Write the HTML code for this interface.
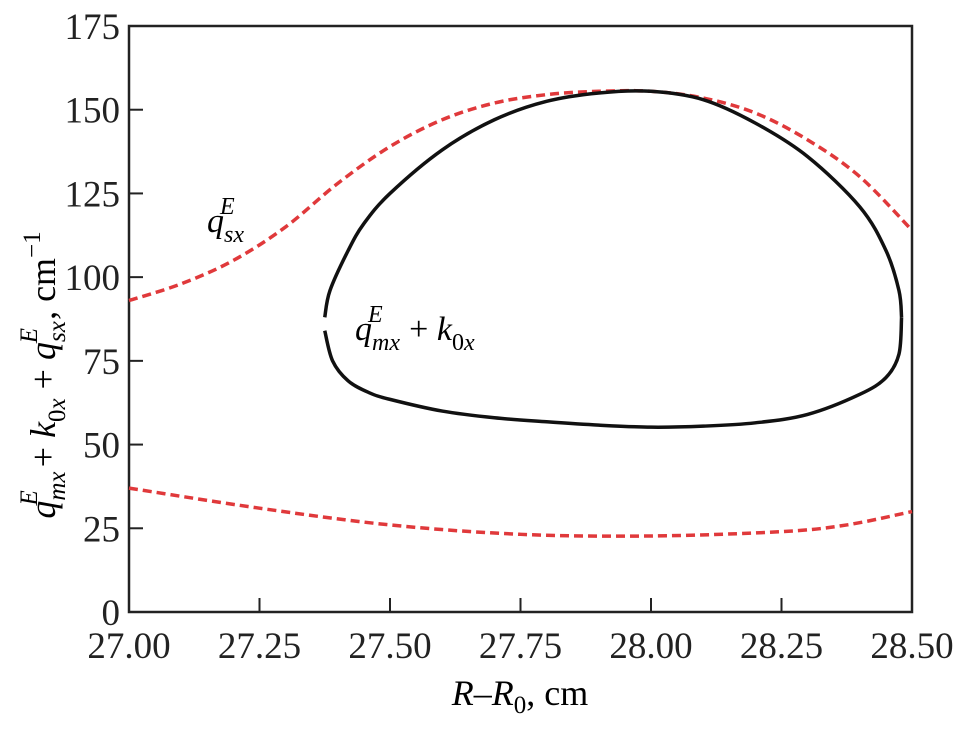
<!DOCTYPE html>
<html><head><meta charset="utf-8"><style>
body{margin:0;background:#fff}
svg{display:block}
text{font-family:"Liberation Serif","DejaVu Serif",serif}
</style></head><body>
<svg width="963" height="730">
<g id="axes"></g><g id="marks"></g>
<text x="207" y="232" font-size="34" font-style="italic" font-family="Liberation Serif, serif">q<tspan font-size="24" dy="10">sx</tspan><tspan font-size="24" dx="-24" dy="-28">E</tspan></text>
<text x="355" y="340" font-size="34" font-family="Liberation Serif, serif"><tspan font-style="italic">q</tspan><tspan font-size="24" font-style="italic" dy="10">mx</tspan><tspan font-size="24" font-style="italic" dx="-32" dy="-28">E</tspan><tspan dx="18" dy="18"> + </tspan><tspan font-style="italic">k</tspan><tspan font-size="24" dy="10">0</tspan><tspan font-size="24" font-style="italic">x</tspan></text>
<text transform="translate(55,375) rotate(-90)" text-anchor="middle" font-size="36" font-family="Liberation Serif, serif"><tspan font-style="italic">q</tspan><tspan font-size="25" font-style="italic" dy="10">mx</tspan><tspan font-size="25" font-style="italic" dx="-34" dy="-28">E</tspan><tspan dx="14" dy="18"> + </tspan><tspan font-style="italic">k</tspan><tspan font-size="25" dy="10">0</tspan><tspan font-size="25" font-style="italic">x</tspan><tspan dy="-10"> + </tspan><tspan font-style="italic">q</tspan><tspan font-size="25" font-style="italic" dy="10">sx</tspan><tspan font-size="25" font-style="italic" dx="-22" dy="-28">E</tspan><tspan dx="8" dy="18">,  cm</tspan><tspan font-size="25" dy="-15">−1</tspan></text>
<text x="520" y="705" text-anchor="middle" font-size="36" font-family="Liberation Serif, serif"><tspan font-style="italic">R</tspan>–<tspan font-style="italic">R</tspan><tspan font-size="25" dy="8">0</tspan><tspan dy="-8">, cm</tspan></text>
</svg>
<script>
const xTicks=[27.00,27.25,27.50,27.75,28.00,28.25,28.50];
const xTickLabels=["27.00","27.25","27.50","27.75","28.00","28.25","28.50"];
const yTicks=[0,25,50,75,100,125,150,175];
const upperX=[27.0,27.1,27.2,27.3,27.4,27.5,27.6,27.7,27.8,27.9,28.0,28.1,28.2,28.3,28.4,28.5];
const upperY=[93,98,105,115,128,139,147,152,154.5,155.5,155.5,153.5,149,141,130,114];
const lowerX=[27.0,27.25,27.5,27.75,28.0,28.25,28.375,28.5];
const lowerY=[37,31,26,23.2,22.7,24,26,30];
const loopTopX=[27.375,27.385,27.42,27.45,27.5,27.6,27.7,27.8,27.9,28.0,28.1,28.2,28.3,28.4,28.45,28.475,28.48];
const loopTopY=[88,96,108,116,125,138,147,152.5,155,155.5,153,146,136,121,108,96,88];
const loopBotX=[27.375,27.39,27.42,27.46,27.5,27.6,27.7,27.8,27.9,28.0,28.1,28.2,28.3,28.4,28.45,28.475,28.48];
const loopBotY=[84,75,69,65.5,63.5,60,58,56.8,55.8,55.2,55.5,56.5,59,65,70,77,88];
const X=v=>129+(v-27)/1.5*783, Y=v=>612-v/175*586;
const NS="http://www.w3.org/2000/svg";
const ax=document.getElementById('axes'), mk=document.getElementById('marks');
function el(t,a,p){const e=document.createElementNS(NS,t);for(const k in a)e.setAttribute(k,a[k]);p.appendChild(e);return e;}
const frame=el('rect',{x:129,y:26,width:783,height:586,fill:'none',stroke:'#222','stroke-width':2.5},ax);


xTicks.forEach((t,i)=>{
 const l=el('line',{x1:X(t),x2:X(t),y1:612,y2:598,stroke:'#222','stroke-width':2},ax);
 
 
 const tx=el('text',{x:X(t),y:658,'text-anchor':'middle','font-size':37,fill:'#222','font-family':'Liberation Serif, serif'},ax);tx.textContent=xTickLabels[i];
 
 
});
yTicks.forEach(t=>{
 const l=el('line',{x1:129,x2:143,y1:Y(t),y2:Y(t),stroke:'#222','stroke-width':2},ax);
 
 
 const tx=el('text',{x:120,y:Y(t)+13,'text-anchor':'end','font-size':37,fill:'#222','font-family':'Liberation Serif, serif'},ax);tx.textContent=t;
 
 
});
function path(xs,ys){const p=xs.map((x,i)=>[X(x),Y(ys[i])]);let d=`M${p[0][0]},${p[0][1]}`;
 for(let i=0;i<p.length-1;i++){const a=p[Math.max(i-1,0)],b=p[i],c=p[i+1],e=p[Math.min(i+2,p.length-1)];
 d+=` C${b[0]+(c[0]-a[0])/6},${b[1]+(c[1]-a[1])/6} ${c[0]-(e[0]-b[0])/6},${c[1]-(e[1]-b[1])/6} ${c[0]},${c[1]}`;}return d;}
const s1=el('path',{d:path(upperX,upperY),fill:'none',stroke:'#e0393b','stroke-width':3.5,'stroke-dasharray':'9 5'},mk);


const s2=el('path',{d:path(lowerX,lowerY),fill:'none',stroke:'#e0393b','stroke-width':3.5,'stroke-dasharray':'9 5'},mk);


const s3=el('path',{d:path(loopTopX,loopTopY),fill:'none',stroke:'#111','stroke-width':3.5},mk);


const s4=el('path',{d:path(loopBotX,loopBotY),fill:'none',stroke:'#111','stroke-width':3.5},mk);


</script>
</body></html>
